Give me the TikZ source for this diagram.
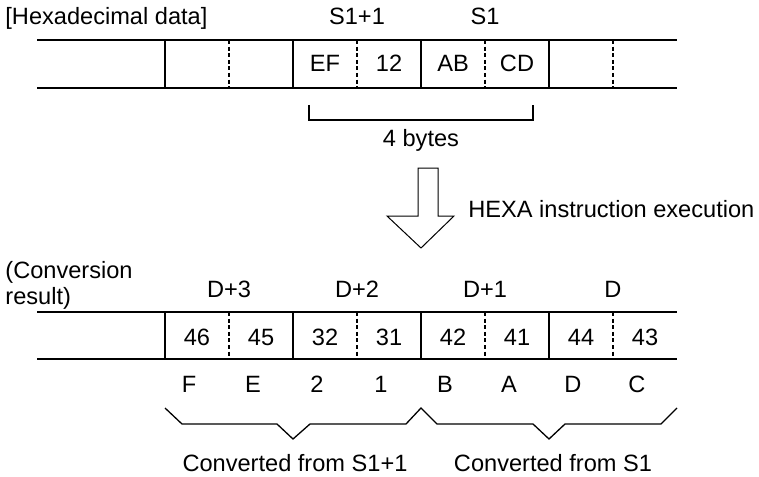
\documentclass[tikz,border=0pt]{standalone}
\usepackage{fontspec}
\setmainfont{Liberation Sans}
\begin{document}
\begin{tikzpicture}[x=0.5pt,y=-0.5pt,
  every node/.style={inner sep=0pt, anchor=base, font=\fontsize{11.8}{14}\selectfont},
  rowline/.style={line width=1pt},
  solidsep/.style={line width=0.65pt},
  dashsep/.style={line width=0.65pt, dash pattern=on 2pt off 1.3pt},
  bracket/.style={line width=0.65pt},
  bigarrow/.style={line width=0.5pt, fill=white},
]
\useasboundingbox (0,0) rectangle (759,476);

% ---- top row (hexadecimal data)
\coordinate (tl) at (37,40);
\coordinate (tr) at (677,40);
\coordinate (bl) at (37,88);
\coordinate (br) at (677,88);
\draw[rowline] (tl) -- (tr);
\draw[rowline] (bl) -- (br);
\foreach \x in {165,293,421,549} \draw[solidsep] (\x,40) -- (\x,88);
\foreach \x in {229,357,485,613} \draw[dashsep] (\x,40) -- (\x,88);

\node[anchor=base west] (title) at (5,25) {[Hexadecimal data]};
\node (s11) at (357,25) {S1+1};
\node (s1) at (485,25) {S1};
\foreach \x/\t/\n in {325/EF/ef, 389/12/ta, 453/AB/ab, 517/CD/cd}
  \node (\n) at (\x,72) {\t};

% bracket under the 4 bytes
\draw[bracket] (309,105) -- (309,120) -- (533,120) -- (533,105);
\node (bytes) at (421,146) {4 bytes};

% ---- big arrow
\draw[bigarrow] (418,168) -- (438,168) -- (438,216) -- (454,216) -- (421,248)
  -- (387,216) -- (418,216) -- cycle;
\node[anchor=base west] (hexa) at (468,217) {HEXA instruction execution};

% ---- bottom row (conversion result)
\node[anchor=base west] (conv) at (5,278) {(Conversion};
\node[anchor=base west] (res) at (5,304) {result)};
\foreach \x/\t/\n in {229/D+3/d3, 357/D+2/d2, 485/D+1/d1, 613/D/d0}
  \node (\n) at (\x,297) {\t};

\draw[rowline] (37,312) -- (677,312);
\draw[rowline] (37,359) -- (677,359);
\foreach \x in {165,293,421,549} \draw[solidsep] (\x,312) -- (\x,359);
\foreach \x in {229,357,485,613} \draw[dashsep] (\x,312) -- (\x,359);

\foreach \x/\t/\n in {197/46/c1, 261/45/c2, 325/32/c3, 389/31/c4, 453/42/c5, 517/41/c6, 581/44/c7, 645/43/c8}
  \node (\n) at (\x,345) {\t};

\foreach \x/\t/\n in {189/F/l1, 253/E/l2, 317/2/l3, 381/1/l4, 445/B/l5, 509/A/l6, 573/D/l7, 637/C/l8}
  \node (\n) at (\x,392) {\t};

% braces
\draw[bracket] (165,408) -- (182,424) -- (277,424) -- (293,439) -- (310,424)
  -- (406,424) -- (421,408) -- (437,424) -- (533,424) -- (549,439) -- (565,424)
  -- (661,424) -- (677,408);

\node (from1) at (295,471) {Converted from S1+1};
\node (from0) at (553,471) {Converted from S1};
\end{tikzpicture}
\end{document}
